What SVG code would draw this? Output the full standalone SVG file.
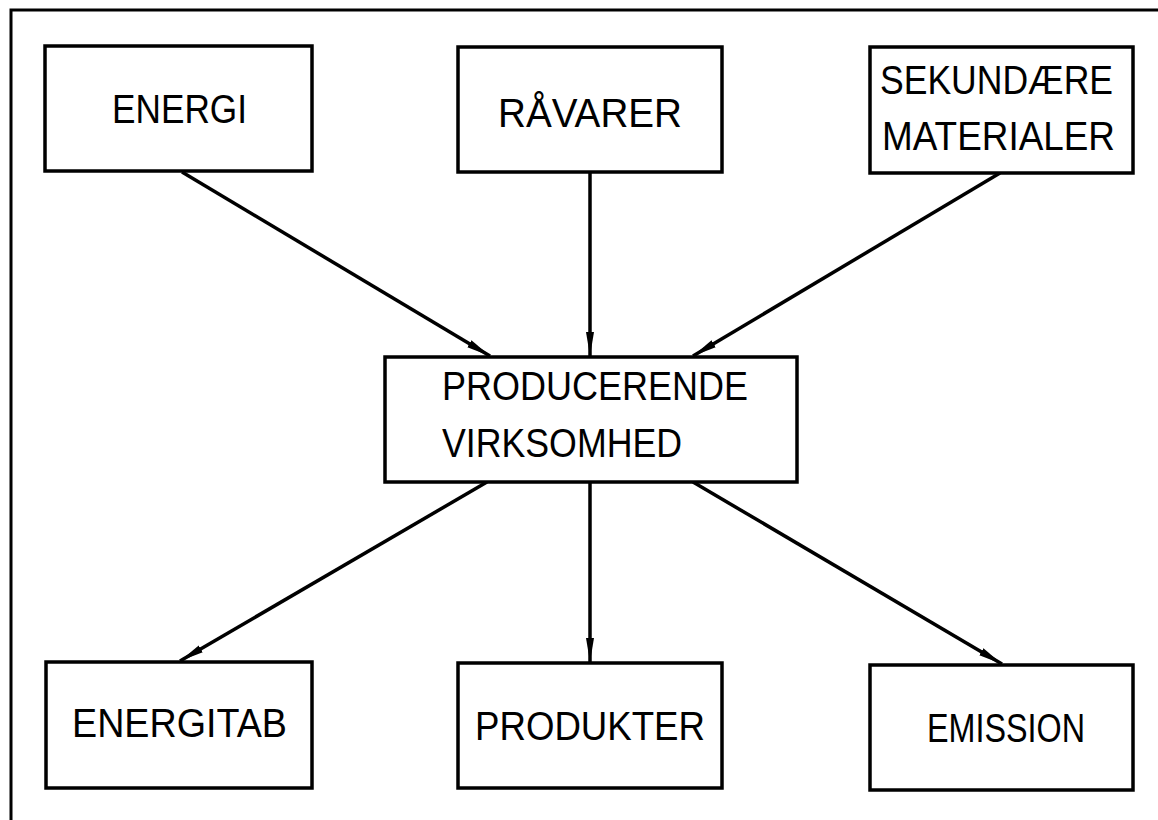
<svg xmlns="http://www.w3.org/2000/svg" width="1158" height="820" viewBox="0 0 1158 820">
<style>
.box{fill:#fff;stroke:#000;stroke-width:3.5}
.lbl{font-family:"Liberation Sans","DejaVu Sans",sans-serif;font-size:41px;fill:#000}
.con{stroke:#000;stroke-width:3.5;fill:none;marker-end:url(#ah)}
</style>
<defs>
<marker id="ah" viewBox="0 0 24 10" refX="24" refY="5" markerWidth="24" markerHeight="10" markerUnits="userSpaceOnUse" orient="auto">
<path d="M0,1 L24,5 L0,9 Z" fill="#000"/>
</marker>
</defs>
<rect width="1158" height="820" fill="#fff"/>
<g id="frame"><path d="M11,830 L11,10 L1170,10" fill="none" stroke="#000" stroke-width="3"/></g>
<g id="connectors">
<line class="con" x1="182" y1="172" x2="490" y2="356"/>
<line class="con" x1="590" y1="172" x2="590" y2="356"/>
<line class="con" x1="1000" y1="173" x2="693" y2="356"/>
<line class="con" x1="487" y1="482" x2="180" y2="661"/>
<line class="con" x1="590" y1="482" x2="590" y2="662"/>
<line class="con" x1="693" y1="482" x2="1002" y2="664"/>
</g>
<g id="energi"><rect class="box" x="45" y="46" width="267" height="125"/><text class="lbl" x="112" y="123" textLength="135" lengthAdjust="spacingAndGlyphs">ENERGI</text></g>
<g id="ravarer"><rect class="box" x="458" y="47" width="264" height="125"/><text class="lbl" x="498" y="127" textLength="184" lengthAdjust="spacingAndGlyphs">RÅVARER</text></g>
<g id="sekundaere"><rect class="box" x="870" y="47" width="263" height="126"/><text class="lbl" x="880" y="94" textLength="233" lengthAdjust="spacingAndGlyphs">SEKUNDÆRE</text><text class="lbl" x="882" y="150" textLength="233" lengthAdjust="spacingAndGlyphs">MATERIALER</text></g>
<g id="producerende"><rect class="box" x="385" y="357" width="412" height="125"/><text class="lbl" x="442" y="400" textLength="306" lengthAdjust="spacingAndGlyphs">PRODUCERENDE</text><text class="lbl" x="442" y="457" textLength="240" lengthAdjust="spacingAndGlyphs">VIRKSOMHED</text></g>
<g id="energitab"><rect class="box" x="46" y="662" width="266" height="126"/><text class="lbl" x="72" y="737" textLength="215" lengthAdjust="spacingAndGlyphs">ENERGITAB</text></g>
<g id="produkter"><rect class="box" x="458" y="663" width="264" height="125"/><text class="lbl" x="475" y="740" textLength="230" lengthAdjust="spacingAndGlyphs">PRODUKTER</text></g>
<g id="emission"><rect class="box" x="870" y="665" width="263" height="125"/><text class="lbl" x="927" y="742" textLength="158" lengthAdjust="spacingAndGlyphs">EMISSION</text></g>
</svg>
